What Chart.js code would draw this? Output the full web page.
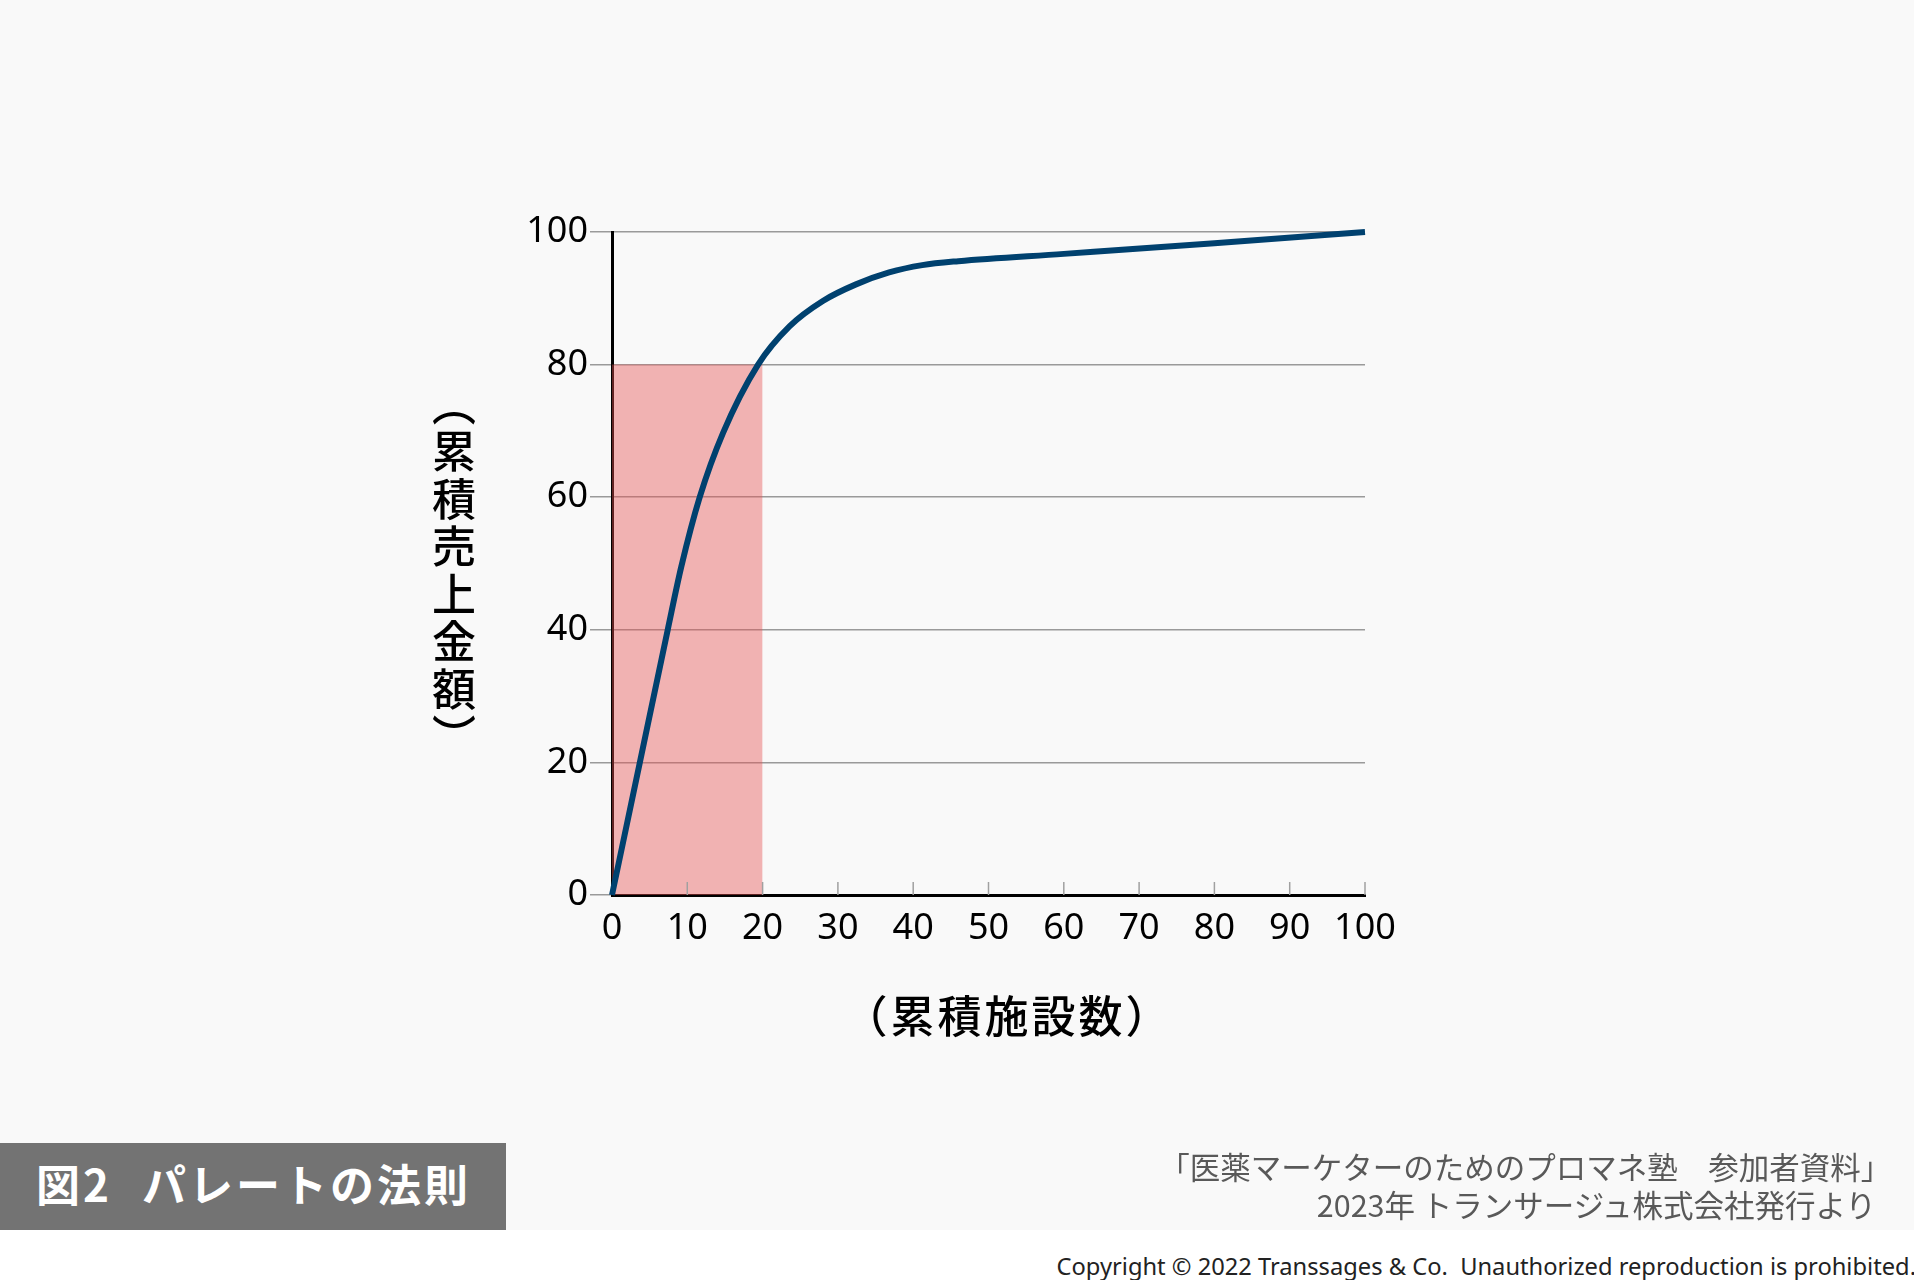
<!DOCTYPE html>
<html lang="ja">
<head>
<meta charset="utf-8">
<script src="https://cdn.jsdelivr.net/npm/chart.js@4/dist/chart.umd.min.js"></script>
<style>
  html, body { margin: 0; padding: 0; }
  body { width: 1914px; height: 1280px; background: #ffffff; position: relative; overflow: hidden;
         font-family: "Noto Sans CJK JP", "Noto Sans", sans-serif; text-spacing-trim: space-all; }
  #panel { position: absolute; left: 0; top: 0; width: 1914px; height: 1230px; background: #f9f9f9; }
  #chartBox { position: absolute; left: 0; top: 0; width: 1914px; height: 1230px; }
  #yTitle { position: absolute; left: 432px; top: 382px; writing-mode: vertical-rl; font-size: 44px;
            font-weight: 500; color: #000; line-height: 44px; letter-spacing: 3.5px; }
  #xTitle { position: absolute; left: 0; width: 2016px; top: 982px; text-align: center; font-size: 44px;
            font-weight: 500; color: #000; letter-spacing: 3px; }
  #figLabel { position: absolute; left: 0; top: 1143px; width: 506px; height: 87px; background: #737373;
              color: #fff; font-size: 44px; font-weight: 700; line-height: 80px; box-sizing: border-box;
              padding-left: 36px; letter-spacing: 3px; white-space: nowrap; }
  #figLabel span { margin-left: 30px; }
  #source { position: absolute; right: 38px; top: 1147px; text-align: right; font-size: 30.5px; color: #595959;
            line-height: 38px; white-space: nowrap; }
  #source .close { margin-right: -0.5em; }
  #copy { position: absolute; right: -2px; top: 1250px; font-family: "Noto Sans", sans-serif; font-size: 23.7px;
          color: #222; white-space: pre; }
</style>
</head>
<body>
<div id="panel"></div>
<div id="chartBox"><canvas id="myChart"></canvas></div>
<div id="yTitle">（累積売上金額）</div>
<div id="xTitle">（累積施設数）</div>
<div id="figLabel">図2<span>パレートの法則</span></div>
<div id="source">「医薬マーケターのためのプロマネ塾　参加者資料<span class="close">」</span><br>2023年 トランサージュ株式会社発行より</div>
<div id="copy">Copyright © 2022 Transsages &amp; Co.  Unauthorized reproduction is prohibited.</div>

<script>
// cumulative facilities (%) vs cumulative sales (%)
const gCurveX = [0, 3.7, 7.4, 9.2, 11.65, 14.75, 19.4, 23.6, 28, 32.4, 36.8, 41.2, 46, 60, 80, 100]
const gCurveY = [0, 20, 40, 49.5, 60, 69.7, 80, 85.8, 89.6, 92.1, 93.9, 95.0, 95.6, 96.7, 98.3, 100]

// top 20% of facilities -> 80% of sales
const gAreaX = [0, 20]
const gAreaY = [80, 80]

const gXTicks = [0, 10, 20, 30, 40, 50, 60, 70, 80, 90, 100]
const gYTicks = [0, 20, 40, 60, 80, 100]

// small upward tick marks on the x axis
const innerTicks = {
  id: 'innerTicks',
  afterDatasetsDraw(chart) {
    const xs = chart.scales.x
    const bottom = chart.chartArea.bottom
    const ctx = chart.ctx
    ctx.save()
    ctx.strokeStyle = '#a0a0a0'
    ctx.lineWidth = 1.5
    gXTicks.forEach(v => {
      if (v === 0) return
      const px = xs.getPixelForValue(v)
      ctx.beginPath()
      ctx.moveTo(px, bottom)
      ctx.lineTo(px, bottom - 13)
      ctx.stroke()
    })
    ctx.restore()
  }
}

function displayChart() {
  const ctx = document.getElementById('myChart').getContext('2d')
  new Chart(ctx, {
    type: 'line',
    data: {
      datasets: [{
        label: 'curve',
        data: gCurveX.map((x, i) => ({ x: x, y: gCurveY[i] })),
        borderColor: '#00416f',
        borderWidth: 6,
        pointRadius: 0,
        cubicInterpolationMode: 'monotone',
        fill: false,
        clip: false,
        order: 0
      }, {
        label: 'area',
        data: gAreaX.map((x, i) => ({ x: x, y: gAreaY[i] })),
        borderWidth: 0,
        borderColor: 'rgba(0,0,0,0)',
        backgroundColor: 'rgba(230,82,82,0.42)',
        pointRadius: 0,
        fill: 'origin',
        order: 1
      }]
    },
    options: {
      responsive: true,
      maintainAspectRatio: false,
      animation: false,
      events: [],
      layout: {
        padding: { left: 482, right: 549, top: 232, bottom: 265 }
      },
      scales: {
        x: {
          type: 'linear',
          min: 0,
          max: 100,
          afterBuildTicks: (s) => { s.ticks = gXTicks.map(v => ({ value: v })) },
          afterFit: (s) => { s.height = 70 },
          grid: { display: false, drawTicks: false },
          border: { display: true, color: '#000', width: 3 },
          ticks: {
            color: '#000',
            padding: 12,
            maxRotation: 0,
            autoSkip: false,
            font: { family: '"Noto Sans", sans-serif', size: 36 }
          }
        },
        y: {
          min: 0,
          max: 100,
          afterBuildTicks: (s) => { s.ticks = gYTicks.map(v => ({ value: v })) },
          afterFit: (s) => { s.width = 130 },
          grid: { color: '#9a9a9a', lineWidth: 1.5, tickLength: 22, tickColor: '#9a9a9a' },
          border: { display: true, color: '#000', width: 3 },
          ticks: {
            color: '#000',
            padding: 2,
            font: { family: '"Noto Sans", sans-serif', size: 36 }
          }
        }
      },
      plugins: {
        legend: { display: false },
        tooltip: { enabled: false }
      }
    },
    plugins: [innerTicks]
  })
}

displayChart()
</script>
</body>
</html>
